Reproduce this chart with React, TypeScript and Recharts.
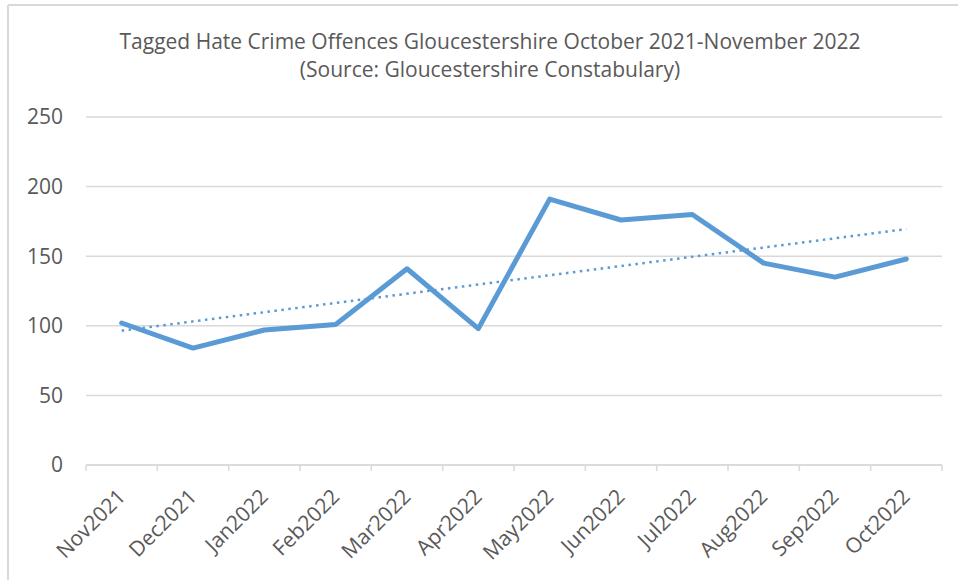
import React from 'react';
import { LineChart, Line, XAxis, YAxis, CartesianGrid } from 'recharts';

const months = [
  'Nov2021', 'Dec2021', 'Jan2022', 'Feb2022', 'Mar2022', 'Apr2022',
  'May2022', 'Jun2022', 'Jul2022', 'Aug2022', 'Sep2022', 'Oct2022',
];
const offences = [102, 84, 97, 101, 141, 98, 191, 176, 180, 145, 135, 148];
// Linear trendline as drawn in the picture: its two end values
const trend = [96.5, null, null, null, null, null, null, null, null, null, null, 169.5];
const yTicks = [0, 50, 100, 150, 200, 250];
const titleLines = [
  'Tagged Hate Crime Offences Gloucestershire October 2021-November 2022',
  '(Source: Gloucestershire Constabulary)',
];

const data = months.map((m, i) => ({ month: m, offences: offences[i], trend: trend[i] }));

const W = 958;
const H = 580;
const MARGIN = { top: 117, right: 16, bottom: 5, left: 0 };
const Y_W = 86;
const X_H = 110;
const BAND = (W - MARGIN.left - MARGIN.right - Y_W) / months.length;
const FONT = '"Open Sans", "Noto Sans", sans-serif';
const TEXT = '#595959';
const GRID = '#d9d9d9';
const BLUE = '#5B9BD5';

function XTick(props: any) {
  const { x, y, payload, index } = props;
  const half = BAND / 2;
  const ax = x + 5;
  const ay = y + 33;
  return (
    <g>
      <line x1={x - half} x2={x - half} y1={y} y2={y + 6} stroke={GRID} strokeWidth={1.5} />
      {index === months.length - 1 && (
        <line x1={x + half} x2={x + half} y1={y} y2={y + 6} stroke={GRID} strokeWidth={1.5} />
      )}
      <text
        x={ax}
        y={ay}
        textAnchor="end"
        transform={`rotate(-45 ${ax} ${ay})`}
        fill={TEXT}
        fontSize={21}
        fontFamily={FONT}
      >
        {payload.value}
      </text>
    </g>
  );
}

export default function App() {
  return (
    <div style={{ position: 'absolute', left: 0, top: 0, width: W, height: H, background: '#fff' }}>
      <svg width={W} height={H} style={{ position: 'absolute', left: 0, top: 0 }}>
        <line x1={8} y1={5} x2={W} y2={5} stroke={GRID} strokeWidth={2} />
        <line x1={8} y1={5} x2={8} y2={H} stroke={GRID} strokeWidth={2} />
        <text x={490} y={49} textAnchor="middle" fill={TEXT} fontSize={21} fontFamily={FONT}>
          {titleLines[0]}
        </text>
        <text x={490} y={77} textAnchor="middle" fill={TEXT} fontSize={21} fontFamily={FONT}>
          {titleLines[1]}
        </text>
      </svg>
      <div style={{ position: 'absolute', left: 0, top: 0 }}>
        <LineChart width={W} height={H} data={data} margin={MARGIN}>
          <CartesianGrid horizontal vertical={false} stroke={GRID} strokeWidth={1.5} />
          <XAxis
            dataKey="month"
            scale="band"
            height={X_H}
            interval={0}
            tickSize={0}
            tickMargin={0}
            tickLine={false}
            axisLine={{ stroke: GRID, strokeWidth: 1.5 }}
            tick={<XTick />}
          />
          <YAxis
            width={Y_W}
            domain={[0, 250]}
            ticks={yTicks}
            axisLine={false}
            tickLine={false}
            tickSize={0}
            tickMargin={23}
            tick={{ fill: TEXT, fontSize: 21, fontFamily: FONT }}
          />
          <Line
            dataKey="trend"
            stroke={BLUE}
            strokeWidth={2.5}
            strokeDasharray="2.5 4.5"
            dot={false}
            connectNulls
            isAnimationActive={false}
          />
          <Line
            dataKey="offences"
            stroke={BLUE}
            strokeWidth={5}
            strokeLinejoin="round"
            strokeLinecap="round"
            dot={false}
            isAnimationActive={false}
          />
        </LineChart>
      </div>
    </div>
  );
}
